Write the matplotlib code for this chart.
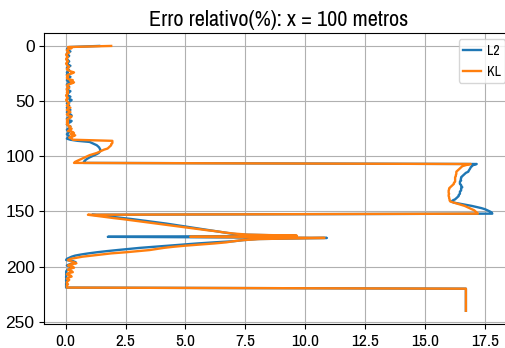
import matplotlib
matplotlib.use("Agg")
import matplotlib.pyplot as plt
import numpy as np

plt.rcParams["font.family"] = ["Liberation Sans Narrow", "Archivo Narrow", "DejaVu Sans"]

# depth (y) runs 0..240, one value per metre
depth = np.arange(241)

err_l2 = [
    1.4, 0.15, 0.1, 0.05, 0.1, 0.2, 0.1, 0.05, 0.1, 0.15,          # 0-9
    0.1, 0.05, 0.05, 0.1, 0.15, 0.1, 0.05, 0.1, 0.2, 0.1,           # 10-19
    0.05, 0.1, 0.15, 0.1, 0.05, 0.1, 0.05, 0.1, 0.2, 0.15,          # 20-29
    0.1, 0.05, 0.1, 0.2, 0.1, 0.05, 0.1, 0.15, 0.1, 0.05,           # 30-39
    0.1, 0.2, 0.15, 0.1, 0.05, 0.1, 0.2, 0.1, 0.15, 0.25,           # 40-49
    0.2, 0.1, 0.05, 0.1, 0.15, 0.1, 0.05, 0.1, 0.2, 0.1,            # 50-59
    0.05, 0.1, 0.2, 0.25, 0.15, 0.1, 0.05, 0.1, 0.25, 0.2,          # 60-69
    0.1, 0.05, 0.1, 0.2, 0.15, 0.1, 0.05, 0.1, 0.15, 0.1,           # 70-79
    0.05, 0.1, 0.15, 0.1, 0.05, 0.2, 0.5, 1.0, 1.1, 1.2,            # 80-89
    1.3, 1.35, 1.4, 1.42, 1.45, 1.45, 1.42, 1.38, 1.3, 1.2,         # 90-99
    1.1, 1.0, 0.92, 0.85, 0.8, 0.76, 0.75, 17.15, 17.0, 16.95,      # 100-109
    16.9, 16.88, 16.85, 16.82, 16.8, 16.7, 16.65, 16.6, 16.55, 16.5,  # 110-119
    16.5, 16.48, 16.5, 16.45, 16.45, 16.45, 16.5, 16.5, 16.55, 16.5,  # 120-129
    16.5, 16.5, 16.45, 16.45, 16.45, 16.4, 16.4, 16.35, 16.3, 16.25,  # 130-139
    16.15, 16.1, 16.2, 16.45, 16.7, 16.95, 17.15, 17.35, 17.5, 17.6,  # 140-149
    17.7, 17.78, 17.8, 1.1, 1.6, 2.0, 2.4, 2.8, 3.15, 3.5,          # 150-159
    3.85, 4.2, 4.5, 4.8, 5.1, 5.4, 5.7, 6.0, 6.3, 6.6,              # 160-169
    6.9, 7.3, 9.6, 1.76, 10.9, 8.0, 7.4, 7.0, 6.2, 5.5,             # 170-179
    4.9, 4.3, 3.7, 3.1, 2.6, 2.15, 1.7, 1.3, 0.95, 0.65,            # 180-189
    0.4, 0.25, 0.15, 0.05, 0.02, 0.3, 0.42, 0.3, 0.15, 0.05,        # 190-199
    0.2, 0.28, 0.15, 0.07, 0.03, 0.02, 0.03, 0.02, 0.03, 0.02,      # 200-209
    0.02, 0.03, 0.02, 0.02, 0.03, 0.02, 0.02, 0.02, 0.02, 0.02,     # 210-219
    16.7, 16.7, 16.7, 16.7, 16.7, 16.7, 16.7, 16.7, 16.7, 16.7,     # 220-229
    16.7, 16.7, 16.7, 16.7, 16.7, 16.7, 16.7, 16.7, 16.7, 16.7,     # 230-239
    16.7,                                                           # 240
]

err_kl = [
    1.9, 0.1, 0.25, 0.1, 0.05, 0.1, 0.15, 0.05, 0.02, 0.05,         # 0-9
    0.1, 0.05, 0.02, 0.05, 0.1, 0.05, 0.02, 0.05, 0.1, 0.15,        # 10-19
    0.1, 0.05, 0.1, 0.2, 0.35, 0.25, 0.1, 0.05, 0.1, 0.05,          # 20-29
    0.1, 0.3, 0.2, 0.35, 0.25, 0.1, 0.05, 0.1, 0.15, 0.05,          # 30-39
    0.05, 0.1, 0.05, 0.1, 0.05, 0.02, 0.05, 0.1, 0.05, 0.02,        # 40-49
    0.05, 0.1, 0.15, 0.1, 0.05, 0.1, 0.2, 0.1, 0.05, 0.15,          # 50-59
    0.2, 0.1, 0.05, 0.1, 0.25, 0.2, 0.1, 0.05, 0.1, 0.05,           # 60-69
    0.1, 0.05, 0.1, 0.2, 0.15, 0.25, 0.2, 0.1, 0.3, 0.35,           # 70-79
    0.2, 0.4, 0.3, 0.15, 0.25, 0.3, 1.95, 1.95, 1.95, 1.9,          # 80-89
    1.9, 1.85, 1.8, 1.75, 1.6, 1.5, 1.4, 1.3, 1.15, 1.0,            # 90-99
    0.9, 0.8, 0.7, 0.6, 0.5, 0.4, 0.35, 16.9, 16.7, 16.55,          # 100-109
    16.5, 16.45, 16.4, 16.35, 16.3, 16.3, 16.3, 16.28, 16.28, 16.25,  # 110-119
    16.25, 16.25, 16.25, 16.25, 16.2, 16.2, 16.15, 16.1, 16.05, 16.0,  # 120-129
    16.0, 15.98, 15.98, 15.98, 16.0, 15.98, 15.98, 16.0, 16.0, 16.02,  # 130-139
    16.02, 16.05, 16.2, 16.35, 16.5, 16.65, 16.75, 16.85, 16.95, 17.05,  # 140-149
    17.1, 17.15, 17.2, 0.93, 1.3, 1.65, 2.0, 2.4, 2.75, 3.1,        # 150-159
    3.45, 3.8, 4.15, 4.5, 4.85, 5.2, 5.55, 5.9, 6.3, 6.6,           # 160-169
    7.0, 7.6, 9.65, 5.2, 10.8, 8.1, 7.4, 7.0, 6.7, 6.2,             # 170-179
    5.6, 5.0, 4.5, 4.1, 3.8, 3.5, 3.0, 2.5, 1.9, 1.5,               # 180-189
    1.1, 0.7, 0.45, 0.2, 0.1, 0.2, 0.35, 0.45, 0.2, 0.1,            # 190-199
    0.3, 0.35, 0.15, 0.1, 0.25, 0.3, 0.1, 0.05, 0.2, 0.25,          # 200-209
    0.1, 0.05, 0.15, 0.1, 0.05, 0.05, 0.1, 0.05, 0.05, 0.05,        # 210-219
    16.7, 16.7, 16.7, 16.7, 16.7, 16.7, 16.7, 16.7, 16.7, 16.7,     # 220-229
    16.7, 16.7, 16.7, 16.7, 16.7, 16.7, 16.7, 16.7, 16.7, 16.7,     # 230-239
    16.7,                                                           # 240
]

xticks = [0.0, 2.5, 5.0, 7.5, 10.0, 12.5, 15.0, 17.5]
yticks = [0, 50, 100, 150, 200, 250]

fig = plt.figure(figsize=(5.06, 3.48), dpi=100)
# right edge of the axes falls past the picture, as in the reference (cropped)
ax = fig.add_axes([44.3 / 506, 24 / 348, 469.3 / 506, 291.3 / 348])
ax.plot(err_l2, depth, color="#1f77b4", lw=1.7, label="L2")
ax.plot(err_kl, depth, color="#ff7f0e", lw=1.7, label="KL")
ax.set_xlim(-0.89, 18.69)
ax.set_ylim(252, -12)
ax.set_xticks(xticks)
ax.set_yticks(yticks)
ax.tick_params(labelsize=12.5)
# y tick labels are drawn wider than the x ones in the reference
for lab in ax.get_yticklabels():
    lab.set_family(["Liberation Sans", "DejaVu Sans"])
ax.grid(True, color="#b0b0b0", lw=0.8)
ax.set_title("Erro relativo(%): x = 100 metros", fontsize=16, pad=5)
# legend box runs into the right edge, like the reference; labels stay inside
ax.legend(loc="upper left", bbox_to_anchor=(0.883, 0.977), borderaxespad=0,
          fontsize=10, handlelength=1.3, handletextpad=0.45, borderpad=0.3)
fig.savefig("out.png", dpi=100)
